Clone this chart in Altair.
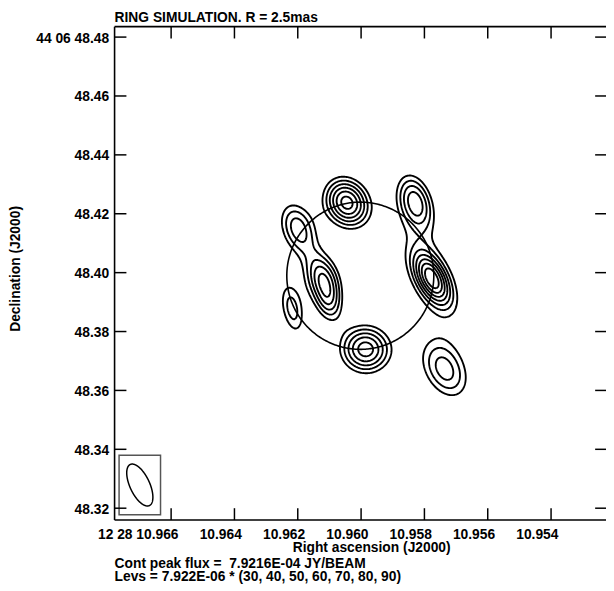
import numpy as np
import pandas as pd
import altair as alt

FONT = "Liberation Sans"
FS = 14

# ---------------- axes (RA 12h28m ss.sss , Dec +44d06m ss.ss) ----------------
RA_TICKS = [10.966, 10.964, 10.962, 10.960, 10.958, 10.956, 10.954]
DEC_TICKS = [48.32, 48.34, 48.36, 48.38, 48.40, 48.42, 48.44, 48.46, 48.48]
RA_RANGE = [10.952265, 10.967786]
DEC_RANGE = [48.31598, 48.48355]

TITLE = "RING SIMULATION. R = 2.5mas"
X_TITLE = "Right ascension (J2000)"
Y_TITLE = "Declination (J2000)"
NOTE1 = "Cont peak flux = \u00a07.9216E-04 JY/BEAM"
NOTE2 = "Levs = 7.922E-06 * (30, 40, 50, 60, 70, 80, 90)"

# contour levels, percent of peak
LEVELS = [30, 40, 50, 60, 70, 80, 90]

# ring overlay
RING_RA = 10.960025
RING_DEC = 48.39895
RING_R_MAS = 25.0

# brightness components (offset east / north from ring centre in mas)
COMP_E = [4.6, -18.7, -24.4, -23.8, 21.2, 12.7, 10.6, 23.2, -1.8, -28.6]
COMP_N = [24.8, 25.3, -1.0, 0.3, 16.0, -1.0, -10.0, -11.2, -25.0, -32.0]
COMP_PEAK = [0.87, 0.63, 0.70, 0.33, 0.58, 0.68, 0.36, 0.46, 0.78, 0.55]
COMP_MAJ = [15.0, 17.0, 16.0, 38.0, 17.0, 15.0, 12.0, 18.0, 15.0, 20.0]
COMP_MIN = [12.5, 10.0, 8.0, 17.0, 10.5, 10.0, 8.0, 7.5, 14.0, 13.0]
COMP_PA = [30, 18, 28, 25, 20, 18, 12, 12, 80, 30]

# restoring beam (mas, deg) and its box, offsets from ring centre (mas)
BEAM_MAJ, BEAM_MIN, BEAM_PA = 15.4, 6.7, 25.0
BEAM_E, BEAM_N = 75.0, -71.08
BOX_HALF_E, BOX_HALF_N = 7.05, 10.12

COS_DEC = np.cos(np.deg2rad(44 + 6 / 60 + 48.4 / 3600))


def to_ra(e):
    return RING_RA + np.asarray(e) * 1e-3 / (15.0 * COS_DEC)


def to_dec(n):
    return RING_DEC + np.asarray(n) * 1e-3


# ---------------- model image ----------------
GE = np.arange(-65.0, 60.0, 0.35)
GN = np.arange(-65.0, 60.0, 0.35)
EE, NN = np.meshgrid(GE, GN)
Z = np.zeros_like(EE)
for e0, n0, p, mj, mn, pa in zip(COMP_E, COMP_N, COMP_PEAK, COMP_MAJ, COMP_MIN, COMP_PA):
    t = np.deg2rad(pa)
    de, dn = EE - e0, NN - n0
    u = de * np.sin(t) + dn * np.cos(t)
    v = de * np.cos(t) - dn * np.sin(t)
    Z += p * np.exp(-4 * np.log(2) * ((u / mj) ** 2 + (v / mn) ** 2))
Z /= Z.max()


def contour_paths(Z, X, Y, lev):
    B = Z >= lev
    code = (B[:-1, :-1] * 1 + B[:-1, 1:] * 2 + B[1:, 1:] * 4 + B[1:, :-1] * 8)
    adj = {}

    def link(a, b):
        adj.setdefault(a, []).append(b)
        adj.setdefault(b, []).append(a)

    for i, j in np.argwhere((code > 0) & (code < 15)):
        c = int(code[i, j])
        e0 = ("h", i, j); e1 = ("v", i, j + 1); e2 = ("h", i + 1, j); e3 = ("v", i, j)
        b0, b1, b2, b3 = c & 1, (c >> 1) & 1, (c >> 2) & 1, (c >> 3) & 1
        cr = []
        if b0 != b1: cr.append(e0)
        if b1 != b2: cr.append(e1)
        if b2 != b3: cr.append(e2)
        if b3 != b0: cr.append(e3)
        if len(cr) == 2:
            link(cr[0], cr[1])
        else:
            centre = (Z[i, j] + Z[i, j + 1] + Z[i + 1, j + 1] + Z[i + 1, j]) / 4 >= lev
            if (c == 5) == centre:
                link(e0, e1); link(e2, e3)
            else:
                link(e3, e0); link(e1, e2)

    def pt(k):
        t, i, j = k
        if t == "h":
            z0, z1 = Z[i, j], Z[i, j + 1]
            f = (lev - z0) / (z1 - z0)
            return X[j] + f * (X[j + 1] - X[j]), Y[i]
        z0, z1 = Z[i, j], Z[i + 1, j]
        f = (lev - z0) / (z1 - z0)
        return X[j], Y[i] + f * (Y[i + 1] - Y[i])

    seen = set()
    paths = []
    starts = [k for k, v in adj.items() if len(v) == 1] + list(adj.keys())
    for s in starts:
        if s in seen:
            continue
        path = [s]
        seen.add(s)
        cur = s
        while True:
            nxt = [q for q in adj[cur] if q not in seen]
            if not nxt:
                break
            cur = nxt[0]
            seen.add(cur)
            path.append(cur)
        pts = [pt(k) for k in path]
        if len(path) > 2 and s in adj[path[-1]]:
            pts.append(pts[0])
        paths.append(pts)
    return paths


rows = []
for lev in LEVELS:
    for k, pts in enumerate(contour_paths(Z, GE, GN, lev / 100.0)):
        arr = np.array(pts)
        ra = to_ra(arr[:, 0]); dec = to_dec(arr[:, 1])
        for o in range(len(arr)):
            rows.append((f"L{lev}_{k}", o, ra[o], dec[o]))
cont_df = pd.DataFrame(rows, columns=["cid", "ord", "ra", "dec"])

phi = np.linspace(0, 2 * np.pi, 361)
ring_df = pd.DataFrame({
    "ord": np.arange(361),
    "ra": to_ra(RING_R_MAS * np.cos(phi)),
    "dec": to_dec(RING_R_MAS * np.sin(phi)),
})

tb = np.deg2rad(BEAM_PA)
bu = BEAM_MAJ / 2 * np.cos(phi)
bv = BEAM_MIN / 2 * np.sin(phi)
beam_df = pd.DataFrame({
    "ord": np.arange(361),
    "ra": to_ra(BEAM_E + bu * np.sin(tb) + bv * np.cos(tb)),
    "dec": to_dec(BEAM_N + bu * np.cos(tb) - bv * np.sin(tb)),
})
box_df = pd.DataFrame({
    "ra": [float(to_ra(BEAM_E - BOX_HALF_E))], "ra2": [float(to_ra(BEAM_E + BOX_HALF_E))],
    "dec": [float(to_dec(BEAM_N - BOX_HALF_N))], "dec2": [float(to_dec(BEAM_N + BOX_HALF_N))],
})

# ---------------- chart ----------------
W, H = 498, 500
xs = alt.Scale(domain=RA_RANGE, reverse=True, nice=False, zero=False)
ys = alt.Scale(domain=DEC_RANGE, nice=False, zero=False)

x_axis = alt.Axis(
    values=RA_TICKS,
    labelExpr="abs(datum.value - 10.966) < 1e-6 ? '12 28 10.966' : format(datum.value, '.3f')",
    ticks=False, tickSize=0, domain=False, grid=False,
    labelAlign="right", labelOffset=7, labelBaseline="alphabetic", labelPadding=19,
    labelFlush=False, labelOverlap=False,
    labelFont=FONT, labelFontSize=FS, labelFontWeight="bold", labelColor="black",
    title=X_TITLE, titleX=260, titleY=32, titleAlign="center", titleBaseline="alphabetic",
    titleFont=FONT, titleFontSize=FS, titleFontWeight="bold", titleColor="black",
)
y_axis = alt.Axis(
    values=DEC_TICKS,
    labelExpr="abs(datum.value - 48.48) < 1e-6 ? '44 06 48.48' : format(datum.value, '.2f')",
    ticks=False, tickSize=0, domain=False, grid=False,
    labelAlign="right", labelBaseline="middle", labelPadding=6, labelOffset=1,
    labelFlush=False, labelOverlap=False,
    labelFont=FONT, labelFontSize=FS, labelFontWeight="bold", labelColor="black",
    title=Y_TITLE, titleX=-96, titleY=245, titleAngle=270, titleAlign="center",
    titleBaseline="alphabetic",
    titleFont=FONT, titleFontSize=FS, titleFontWeight="bold", titleColor="black",
)
X = alt.X("ra:Q", scale=xs, axis=x_axis)
Y = alt.Y("dec:Q", scale=ys, axis=y_axis)
X2 = alt.X2("ra2:Q")
Y2 = alt.Y2("dec2:Q")

contours = alt.Chart(cont_df).mark_line(color="black", strokeWidth=1.9, strokeJoin="round").encode(
    x=X, y=Y, detail="cid:N", order="ord:Q")
ring = alt.Chart(ring_df).mark_line(color="black", strokeWidth=1.6).encode(x=X, y=Y, order="ord:Q")
beam = alt.Chart(beam_df).mark_line(color="black", strokeWidth=1.5).encode(x=X, y=Y, order="ord:Q")
box = alt.Chart(box_df).mark_rect(fillOpacity=0, stroke="#555555", strokeWidth=1.5).encode(
    x=X, x2=X2, y=Y, y2=Y2)

ra_t = pd.DataFrame({"ra": RA_TICKS})
dec_t = pd.DataFrame({"dec": DEC_TICKS})
TK = dict(color="black", strokeWidth=1.5)
tick_b = alt.Chart(ra_t).mark_rule(**TK).encode(x=X, y=alt.value(H), y2=alt.value(H - 12))
tick_t = alt.Chart(ra_t).mark_rule(**TK).encode(x=X, y=alt.value(0), y2=alt.value(12))
tick_l = alt.Chart(dec_t).mark_rule(**TK).encode(y=Y, x=alt.value(0), x2=alt.value(12))
tick_r = alt.Chart(dec_t).mark_rule(**TK).encode(y=Y, x=alt.value(487), x2=alt.value(W + 2))

one = pd.DataFrame({"k": [0]})
FR = dict(color="black", strokeWidth=1.6)
frame_l = alt.Chart(one).mark_rule(**FR).encode(x=alt.value(0), y=alt.value(0), y2=alt.value(H))
frame_t = alt.Chart(one).mark_rule(**FR).encode(x=alt.value(0), x2=alt.value(W + 2), y=alt.value(0))
frame_b = alt.Chart(one).mark_rule(**FR).encode(x=alt.value(0), x2=alt.value(W + 2), y=alt.value(H))

TX = dict(align="left", baseline="alphabetic", font=FONT, fontSize=FS, fontWeight="bold", color="black")
t_title = alt.Chart(pd.DataFrame({"t": [TITLE]})).mark_text(**TX).encode(
    text="t:N", x=alt.value(0), y=alt.value(-5))
t_n1 = alt.Chart(pd.DataFrame({"t": [NOTE1]})).mark_text(**TX).encode(
    text="t:N", x=alt.value(0), y=alt.value(548.7))
t_n2 = alt.Chart(pd.DataFrame({"t": [NOTE2]})).mark_text(**TX).encode(
    text="t:N", x=alt.value(0), y=alt.value(561.5))

chart = alt.layer(
    contours, ring, beam, box, tick_b, tick_t, tick_l, tick_r,
    frame_l, frame_t, frame_b, t_title, t_n1, t_n2,
).properties(
    width=W, height=H,
    autosize=alt.AutoSizeParams(type="none"),
    padding={"left": 108, "top": 15, "right": 0, "bottom": 66},
    background="white",
).configure_view(stroke=None)

chart.save("out.html", embed_options={"renderer": "svg", "actions": False})
